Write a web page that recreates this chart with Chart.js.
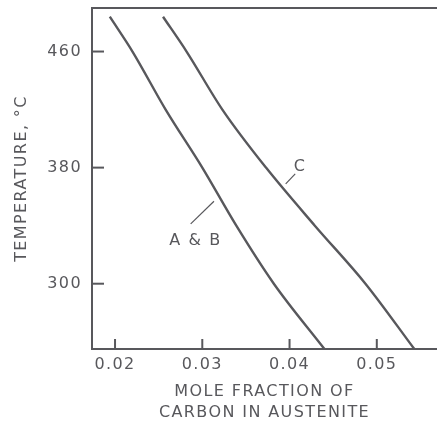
<!DOCTYPE html>
<html>
<head>
<meta charset="utf-8">
<script src="https://cdn.jsdelivr.net/npm/chart.js@4"></script>
<style>
  body { margin: 0; background: #fff; }
  #wrap { width: 437px; height: 421px; }
</style>
</head>
<body>
<div id="wrap"><canvas id="chart" width="437" height="421"></canvas></div>
<script>
// temperatures (degC)
const abTemp = [484, 460, 420, 380, 340, 300, 255];
const abFrac = [0.0194, 0.0220, 0.0258, 0.0300, 0.0339, 0.0382, 0.0440];
const cTemp = [484, 460, 420, 380, 340, 300, 255];
const cFrac = [0.0255, 0.0282, 0.0323, 0.0373, 0.0429, 0.0487, 0.0543];

const xTicks = [0.02, 0.03, 0.04, 0.05];
const yTicks = [300, 380, 460];

// labels + leader lines, in data units
const notes = [
    { text: 'C', x: 0.0412, y: 380.3, from: [0.03956, 368.8], to: [0.04065, 375.7] },
    { text: 'A & B', x: 0.02924, y: 329.2, from: [0.02867, 341.2], to: [0.03134, 356.8] }
];

const ink = '#58585c';

function pts(xs, ys) {
    return xs.map((x, i) => ({ x: x, y: ys[i] }));
}

const frame = {
    id: 'frame',
    beforeDraw(chart) {
        chart.ctx.letterSpacing = '1.4px';
    },
    afterDraw(chart) {
        const ctx = chart.ctx;
        const a = chart.chartArea;
        const sx = chart.scales.x, sy = chart.scales.y;
        ctx.save();
        ctx.strokeStyle = ink;
        ctx.lineWidth = 2;
        // top edge
        ctx.beginPath();
        ctx.moveTo(a.left - 1, a.top);
        ctx.lineTo(chart.width, a.top);
        ctx.stroke();
        // inward ticks
        xTicks.forEach(v => {
            const px = sx.getPixelForValue(v);
            ctx.beginPath();
            ctx.moveTo(px, a.bottom);
            ctx.lineTo(px, a.bottom - 10);
            ctx.stroke();
        });
        yTicks.forEach(v => {
            const py = sy.getPixelForValue(v);
            ctx.beginPath();
            ctx.moveTo(a.left, py);
            ctx.lineTo(a.left + 12, py);
            ctx.stroke();
        });
        // annotations
        ctx.lineWidth = 1.2;
        ctx.fillStyle = ink;
        ctx.font = '16px "DejaVu Sans"';
        ctx.letterSpacing = '1.6px';
        ctx.textAlign = 'center';
        ctx.textBaseline = 'middle';
        notes.forEach(n => {
            ctx.beginPath();
            ctx.moveTo(sx.getPixelForValue(n.from[0]), sy.getPixelForValue(n.from[1]));
            ctx.lineTo(sx.getPixelForValue(n.to[0]), sy.getPixelForValue(n.to[1]));
            ctx.stroke();
            ctx.fillText(n.text, sx.getPixelForValue(n.x), sy.getPixelForValue(n.y));
        });
        ctx.restore();
    }
};

new Chart(document.getElementById('chart'), {
    type: 'scatter',
    data: {
        datasets: [{
            label: 'A & B',
            data: pts(abFrac, abTemp),
            showLine: true,
            borderColor: ink,
            borderWidth: 2.4,
            pointRadius: 0,
            cubicInterpolationMode: 'monotone'
        }, {
            label: 'C',
            data: pts(cFrac, cTemp),
            showLine: true,
            borderColor: ink,
            borderWidth: 2.4,
            pointRadius: 0,
            cubicInterpolationMode: 'monotone'
        }]
    },
    options: {
        responsive: false,
        animation: false,
        layout: { padding: { top: 8, left: 0, right: 0, bottom: 0 } },
        plugins: {
            legend: { display: false },
            tooltip: { enabled: false }
        },
        scales: {
            x: {
                type: 'linear',
                min: 0.01736,
                max: 0.0569,
                afterBuildTicks: s => { s.ticks = xTicks.map(v => ({ value: v })); },
                afterFit: s => { s.height = 72; s.paddingLeft = 0; s.paddingRight = 0; },
                grid: { display: false, drawTicks: false },
                border: { display: true, color: ink, width: 2 },
                ticks: {
                    color: ink,
                    padding: 6,
                    maxRotation: 0,
                    font: { family: 'DejaVu Sans', size: 16 },
                    callback: v => v.toFixed(2)
                },
                title: {
                    display: true,
                    text: ['MOLE FRACTION OF', 'CARBON IN AUSTENITE'],
                    color: ink,
                    font: { family: 'DejaVu Sans', size: 16, lineHeight: 1.3 },
                    padding: { top: 0, bottom: -2 }
                }
            },
            y: {
                type: 'linear',
                min: 255,
                max: 490,
                afterBuildTicks: s => { s.ticks = yTicks.map(v => ({ value: v })); },
                afterFit: s => { s.width = 92; s.paddingTop = 0; s.paddingBottom = 0; },
                grid: { display: false, drawTicks: false },
                border: { display: true, color: ink, width: 2 },
                ticks: {
                    color: ink,
                    padding: 10,
                    font: { family: 'DejaVu Sans', size: 16 }
                },
                title: {
                    display: true,
                    text: 'TEMPERATURE, °C',
                    color: ink,
                    font: { family: 'DejaVu Sans', size: 16 },
                    padding: { top: 12, bottom: 0 }
                }
            }
        }
    },
    plugins: [frame]
});
</script>
</body>
</html>
